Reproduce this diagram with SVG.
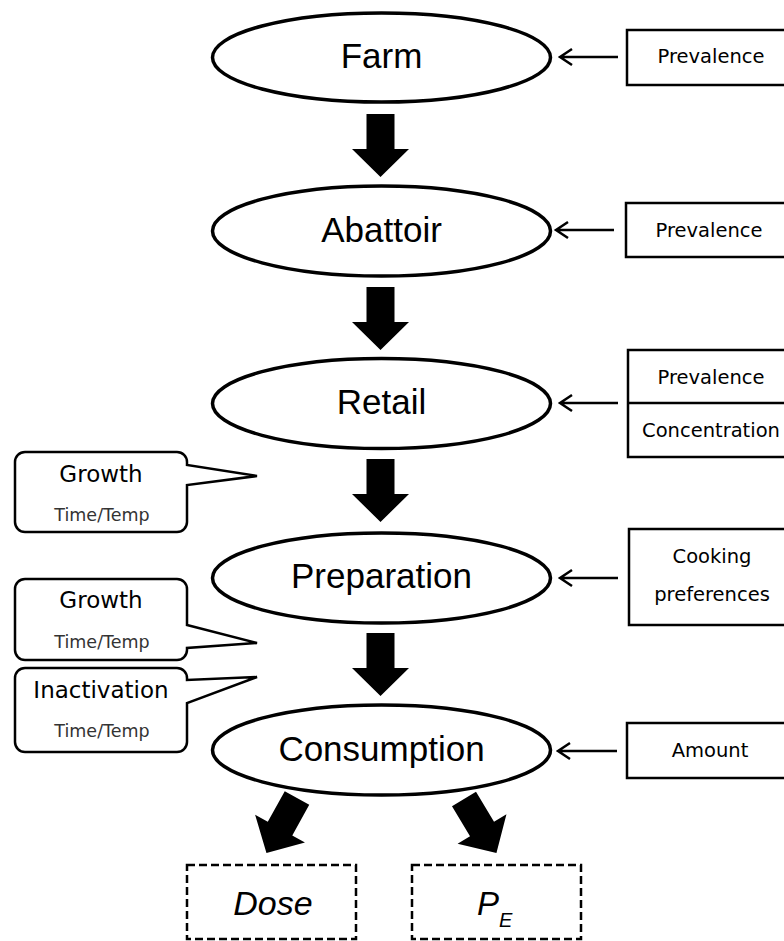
<svg xmlns="http://www.w3.org/2000/svg" xmlns:xlink="http://www.w3.org/1999/xlink" width="784" height="941" viewBox="0 0 784 941">
<style>
.stage{fill:#fff;stroke:#000;stroke-width:3.5}
.stxt{font-family:"Liberation Sans",Arial,sans-serif;font-size:35px;fill:#000;text-anchor:middle}
.box{fill:#fff;stroke:#000;stroke-width:2.5}
.btxt{font-family:"DejaVu Sans",Verdana,sans-serif;font-size:19.5px;fill:#000;text-anchor:middle}
.call{fill:#fff;stroke:#000;stroke-width:2.5;stroke-linejoin:miter}
.ctxt{font-family:"DejaVu Sans",Verdana,sans-serif;font-size:23px;fill:#000;text-anchor:middle}
.csub{font-family:"DejaVu Sans",Verdana,sans-serif;font-size:17.5px;fill:#333;text-anchor:middle}
.out{fill:#fff;stroke:#000;stroke-width:2.5;stroke-dasharray:8 4}
.otxt{font-family:"Liberation Sans",Arial,sans-serif;font-style:italic;fill:#000}
.thin{fill:none;stroke:#000;stroke-width:2.5}
.big{fill:#000;stroke:none}
</style>
<defs>
<path id="bigArrow" d="M -14 0 H 14 V 35 H 28.5 L 0 63 L -28.5 35 H -14 Z"/>
</defs>

<g id="farm">
<ellipse class="stage" cx="381.5" cy="57.5" rx="169" ry="44.5"/>
<text class="stxt" x="381.5" y="68">Farm</text>
</g>
<g id="abattoir">
<ellipse class="stage" cx="381.5" cy="231" rx="169" ry="45"/>
<text class="stxt" x="381.5" y="242">Abattoir</text>
</g>
<g id="retail">
<ellipse class="stage" cx="381.5" cy="403.5" rx="169" ry="45"/>
<text class="stxt" x="381.5" y="414">Retail</text>
</g>
<g id="preparation">
<ellipse class="stage" cx="381.5" cy="578" rx="169" ry="45"/>
<text class="stxt" x="381.5" y="588">Preparation</text>
</g>
<g id="consumption">
<ellipse class="stage" cx="381.5" cy="750" rx="169" ry="45"/>
<text class="stxt" x="381.5" y="761">Consumption</text>
</g>

<g id="box-farm">
<rect class="box" x="627" y="30" width="170" height="55"/>
<text class="btxt" x="711" y="63">Prevalence</text>
</g>
<g id="box-abattoir">
<rect class="box" x="626" y="203" width="171" height="54"/>
<text class="btxt" x="709" y="237">Prevalence</text>
</g>
<g id="box-retail">
<rect class="box" x="628" y="350" width="169" height="107"/>
<line class="thin" x1="628" y1="403" x2="797" y2="403"/>
<text class="btxt" x="711" y="384">Prevalence</text>
<text class="btxt" x="711" y="437">Concentration</text>
</g>
<g id="box-preparation">
<rect class="box" x="629" y="529" width="168" height="96"/>
<text class="btxt" x="712" y="563">Cooking</text>
<text class="btxt" x="712" y="601">preferences</text>
</g>
<g id="box-consumption">
<rect class="box" x="627" y="723" width="170" height="55"/>
<text class="btxt" x="710" y="757">Amount</text>
</g>

<g id="callout-growth-1">
<path class="call" d="M25,452 H177 A10,10 0 0 1 187,462 V465 L257,476 L187,485 V522 A10,10 0 0 1 177,532 H25 A10,10 0 0 1 15,522 V462 A10,10 0 0 1 25,452 Z"/>
<text class="ctxt" x="101" y="482">Growth</text>
<text class="csub" x="102" y="521">Time/Temp</text>
</g>
<g id="callout-growth-2">
<path class="call" d="M25,579 H177 A10,10 0 0 1 187,589 V625 L257,643 L187,648 V650 A10,10 0 0 1 177,660 H25 A10,10 0 0 1 15,650 V589 A10,10 0 0 1 25,579 Z"/>
<text class="ctxt" x="101" y="608">Growth</text>
<text class="csub" x="102" y="648">Time/Temp</text>
</g>
<g id="callout-inactivation">
<path class="call" d="M25,668 H177 A10,10 0 0 1 187,678 V680 L257,677 L187,703 V742 A10,10 0 0 1 177,752 H25 A10,10 0 0 1 15,742 V678 A10,10 0 0 1 25,668 Z"/>
<text class="ctxt" x="101" y="698">Inactivation</text>
<text class="csub" x="102" y="737">Time/Temp</text>
</g>

<g id="out-dose">
<rect class="out" x="187" y="865" width="169" height="74"/>
<text class="otxt" x="273" y="915" font-size="34" text-anchor="middle">Dose</text>
</g>
<g id="out-pe">
<rect class="out" x="412" y="865" width="169" height="74"/>
<text class="otxt" x="477" y="915" font-size="33">P<tspan font-size="20" dy="12">E</tspan></text>
</g>

<g id="connectors">
<use href="#bigArrow" class="big" transform="translate(380.5,114)"/>
<use href="#bigArrow" class="big" transform="translate(380.5,287)"/>
<use href="#bigArrow" class="big" transform="translate(380.5,459)"/>
<use href="#bigArrow" class="big" transform="translate(380.5,633)"/>
<use href="#bigArrow" class="big" transform="translate(297,798) rotate(29)"/>
<use href="#bigArrow" class="big" transform="translate(464,799) rotate(-31)"/>
<path class="thin" d="M618,57 H561 M572,49 L560,57 L572,65"/>
<path class="thin" d="M614,230 H557 M568,222 L556,230 L568,238"/>
<path class="thin" d="M618,403 H561 M572,395 L560,403 L572,411"/>
<path class="thin" d="M618,578 H561 M572,570 L560,578 L572,586"/>
<path class="thin" d="M617,751 H559 M570,743 L558,751 L570,759"/>
</g>
</svg>
